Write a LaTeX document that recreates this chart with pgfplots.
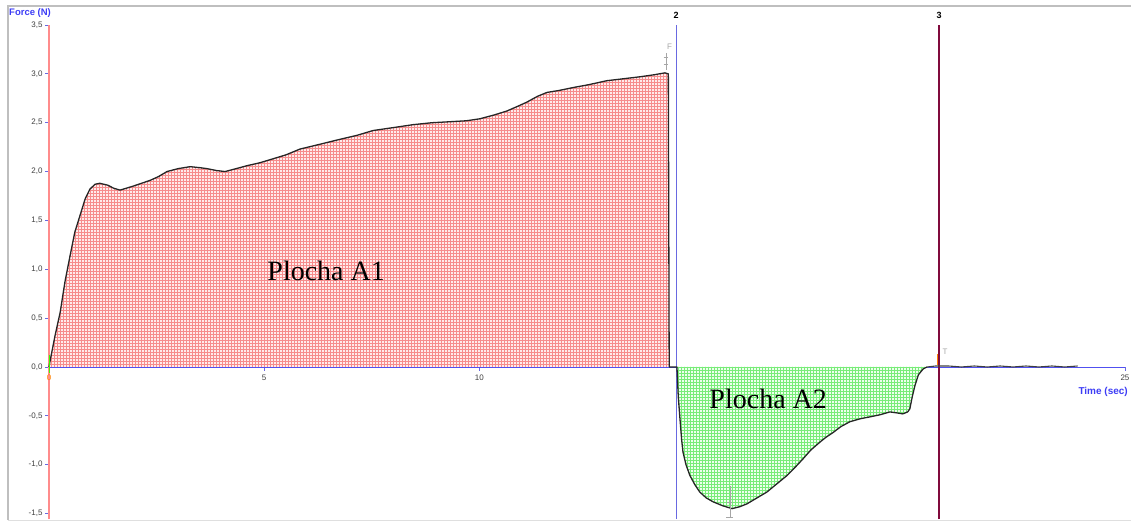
\documentclass[border=0pt]{standalone}
\usepackage{fontspec}
\setmainfont{Liberation Sans}
\newfontfamily\seriffont{Liberation Serif}
\usepackage{pgfplots}
\usepackage{pgfplotstable}
\pgfplotsset{compat=1.18}
\usetikzlibrary{patterns}

% fine square grid used to hatch the two areas
\pgfdeclarepatternformonly{areagrid}{\pgfqpoint{-0.5pt}{-0.5pt}}{\pgfqpoint{3.5pt}{3.5pt}}{\pgfqpoint{3pt}{3pt}}{%
  \pgfsetlinewidth{0.8pt}%
  \pgfpathmoveto{\pgfqpoint{0pt}{0pt}}\pgfpathlineto{\pgfqpoint{3.1pt}{0pt}}%
  \pgfpathmoveto{\pgfqpoint{0pt}{0pt}}\pgfpathlineto{\pgfqpoint{0pt}{3.1pt}}%
  \pgfusepath{stroke}}

\definecolor{areared}{RGB}{246,140,140}
\definecolor{areagreen}{RGB}{120,236,120}
\definecolor{markblue}{RGB}{105,105,225}
\definecolor{markmaroon}{RGB}{128,10,60}
\definecolor{axisblue}{RGB}{80,80,240}
\definecolor{labelblue}{RGB}{60,60,245}
\definecolor{axisred}{RGB}{255,140,140}

% positive phase (area A1)
\pgfplotstableread{
x y
0.00 0.00
0.02 0.05
0.14 0.32
0.26 0.56
0.37 0.87
0.49 1.14
0.60 1.38
0.72 1.55
0.84 1.72
0.95 1.82
1.07 1.87
1.18 1.88
1.37 1.86
1.50 1.83
1.65 1.81
1.80 1.83
1.95 1.85
2.15 1.88
2.35 1.91
2.55 1.95
2.74 2.00
3.00 2.03
3.28 2.05
3.50 2.04
3.67 2.03
3.90 2.01
4.09 2.00
4.35 2.03
4.60 2.06
4.90 2.09
5.20 2.13
5.50 2.17
5.83 2.23
6.30 2.28
6.76 2.33
7.15 2.37
7.53 2.42
8.00 2.45
8.46 2.48
8.90 2.50
9.32 2.51
9.70 2.52
10.01 2.54
10.35 2.58
10.64 2.62
10.90 2.67
11.10 2.71
11.35 2.77
11.57 2.81
11.85 2.83
12.18 2.86
12.55 2.89
12.96 2.93
13.35 2.95
13.73 2.97
14.05 2.99
14.31 3.01
14.39 3.00
14.41 0.00
}\phaseone

% negative phase (area A2)
\pgfplotstableread{
x y
14.41 0.00
14.59 0.00
14.60 -0.10
14.62 -0.30
14.66 -0.53
14.70 -0.75
14.73 -0.87
14.80 -1.00
14.89 -1.11
15.00 -1.20
15.12 -1.28
15.27 -1.34
15.43 -1.38
15.65 -1.42
15.87 -1.45
16.05 -1.43
16.22 -1.40
16.45 -1.34
16.68 -1.28
16.90 -1.20
17.15 -1.11
17.35 -1.02
17.52 -0.94
17.70 -0.85
17.91 -0.77
18.05 -0.72
18.22 -0.67
18.40 -0.61
18.61 -0.56
18.85 -0.53
19.08 -0.51
19.30 -0.49
19.54 -0.46
19.70 -0.47
19.84 -0.48
19.95 -0.46
20.00 -0.43
20.06 -0.30
20.12 -0.19
20.20 -0.08
20.31 -0.02
20.40 0.00
}\phasetwo

% rest after release
\pgfplotstableread{
x y
20.40 0.00
20.60 0.01
20.90 0.01
21.20 0.00
21.50 0.01
21.80 0.00
22.10 0.01
22.40 0.00
22.70 0.01
23.00 0.00
23.30 0.01
23.60 0.00
23.90 0.01
}\phaserest

\begin{document}
\begin{tikzpicture}[x=1pt,y=1pt]
\path[use as bounding box] (0,0) rectangle (1131,523);
\draw[gray!50, line width=1.6pt] (8,3) -- (8,517) -- (1131,517);
\draw[gray!25, line width=1pt] (8,3) -- (1131,3);
\begin{axis}[
  at={(49pt,4pt)}, anchor=south west,
  scale only axis, width=1076pt, height=494pt,
  xmin=0, xmax=25, ymin=-1.556, ymax=3.5,
  axis x line=middle, axis y line=left,
  x axis line style={-, axisblue, line width=0.8pt},
  y axis line style={-, axisred, line width=1.6pt},
  tick style={markblue, line width=0.8pt},
  major tick length=4pt, tick align=outside,
  hide obscured x ticks=false, hide obscured y ticks=false,
  xtick={0,5,10,15,20,25},
  xticklabels={\textcolor{orange}{0},5,10,15,20,25},
  ytick={-1.5,-1,-0.5,0,0.5,1,1.5,2,2.5,3,3.5},
  yticklabels={{-1,5},{-1,0},{-0,5},{0,0},{0,5},{1,0},{1,5},{2,0},{2,5},{3,0},{3,5}},
  ticklabel style={font=\fontsize{8}{9}\selectfont, text=black!75},
  xticklabel style={yshift=0pt},
  yticklabel style={xshift=1pt},
  clip=false,
]
% hatched areas under the curve
\addplot[draw=none, fill=red!8, postaction={pattern=areagrid, pattern color=areared}] table[x=x,y=y] {\phaseone} \closedcycle;
\addplot[draw=none, fill=green!7, postaction={pattern=areagrid, pattern color=areagreen}] table[x=x,y=y] {\phasetwo} \closedcycle;

% phase markers
\addplot[markblue, line width=1.1pt] coordinates {(14.57,-1.556) (14.57,3.5)};
\addplot[markmaroon, line width=1.8pt] coordinates {(20.68,-1.556) (20.68,3.5)};
\node[font=\bfseries\fontsize{9}{10}\selectfont, above, yshift=2.5pt] at (axis cs:14.57,3.5) {2};
\node[font=\bfseries\fontsize{9}{10}\selectfont, above, yshift=2.5pt] at (axis cs:20.68,3.5) {3};

% force curve
\addplot[black!85, line width=1.3pt, line join=round] table[x=x,y=y] {\phaseone};
\addplot[black!85, line width=1.3pt, line join=round] table[x=x,y=y] {\phasetwo};
\addplot[black!75, line width=1.1pt, line join=round] table[x=x,y=y] {\phaserest};

% small cursor flags
\draw[gray!70, line width=0.5pt] (axis cs:14.33,3.04) -- (axis cs:14.33,3.21);
\draw[gray!70, line width=0.5pt] (axis cs:14.28,3.10) -- (axis cs:14.38,3.10);
\draw[gray!70, line width=0.5pt] (axis cs:14.28,3.17) -- (axis cs:14.38,3.17);
\node[text=gray!70, font=\fontsize{8}{9}\selectfont] at (axis cs:14.42,3.28) {F};
\draw[gray!70, line width=0.5pt] (axis cs:15.82,-1.22) -- (axis cs:15.82,-1.54);
\draw[gray!70, line width=0.5pt] (axis cs:15.74,-1.54) -- (axis cs:15.90,-1.54);
\draw[gray!70, line width=0.5pt] (axis cs:15.76,-1.38) -- (axis cs:15.88,-1.38);
\draw[orange, line width=0.7pt] (axis cs:20.64,0.02) -- (axis cs:20.64,0.13);
\node[text=gray!70, font=\fontsize{8}{9}\selectfont] at (axis cs:20.82,0.16) {T};
\draw[green!80!yellow, line width=0.8pt] (axis cs:0.02,-0.06) -- (axis cs:0.02,0.12);

% area names
\node[font=\seriffont\fontsize{28}{30}\selectfont, anchor=base] at (axis cs:6.44,0.88) {Plocha A1};
\node[font=\seriffont\fontsize{28}{30}\selectfont, anchor=base] at (axis cs:16.71,-0.42) {Plocha A2};
\end{axis}
\node[anchor=west, font=\bfseries\fontsize{9.5}{10}\selectfont, text=labelblue, inner sep=0pt] at (9,510) {Force (N)};
\node[anchor=east, font=\bfseries\fontsize{10}{11}\selectfont, text=labelblue, inner sep=0pt] at (1128,131) {Time (sec)};
\end{tikzpicture}
\end{document}
